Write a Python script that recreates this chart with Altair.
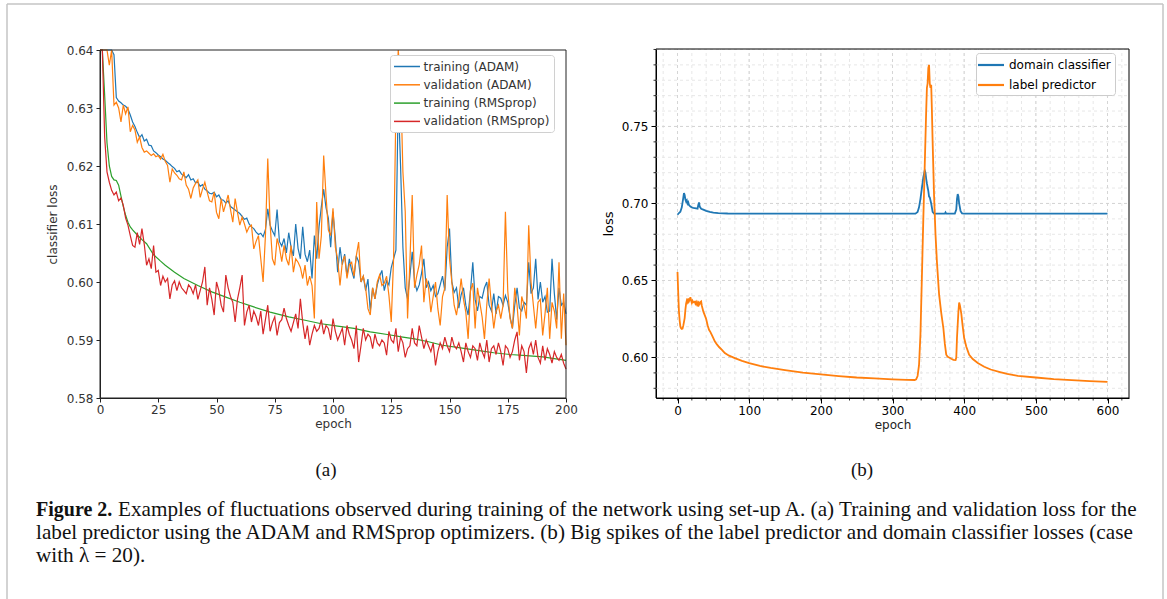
import altair as alt
import pandas as pd

# ---------------- panel (a) data ----------------
SERIES_A = ["training (ADAM)", "validation (ADAM)", "training (RMSprop)", "validation (RMSprop)"]
COLORS_A = ["#1f77b4", "#ff7f0e", "#2ca02c", "#d62728"]

epochs_a = list(range(201))

train_adam = [
    0.680, 0.668, 0.659, 0.652, 0.647, 0.643, 0.6392, 0.6318, 0.6312, 0.6309,
    0.6305, 0.6303, 0.6298, 0.6288, 0.6276, 0.6268, 0.6258, 0.6249, 0.6254, 0.6243,
    0.6246, 0.6236, 0.6235, 0.6226, 0.6223, 0.6219, 0.6216, 0.6212, 0.6210, 0.6206,
    0.6203, 0.6199, 0.6196, 0.6190, 0.6192, 0.6186, 0.6183, 0.6180, 0.6185, 0.6176,
    0.6178, 0.6171, 0.6172, 0.6165, 0.6168, 0.6160, 0.6157, 0.6153, 0.6152, 0.6155,
    0.6147, 0.6150, 0.6142, 0.6141, 0.6136, 0.6140, 0.6130, 0.6127, 0.6124, 0.6121,
    0.6118, 0.6113, 0.6108, 0.6110, 0.6100, 0.6095, 0.6092, 0.6086, 0.6082, 0.6084,
    0.6078, 0.6090, 0.6126, 0.6098, 0.6088, 0.6080, 0.6125, 0.6070, 0.6062, 0.6075,
    0.6050, 0.6085, 0.6060, 0.6045, 0.6100, 0.6058, 0.6040, 0.6095, 0.6048, 0.6035,
    0.6055, 0.6006, 0.6080, 0.6040, 0.6095, 0.6130, 0.6160, 0.6128, 0.6110, 0.6060,
    0.6121, 0.6075, 0.6017, 0.6060, 0.6030, 0.6048, 0.6010, 0.6040, 0.6020, 0.6006,
    0.6045, 0.6035, 0.6000, 0.6010, 0.5985, 0.6005, 0.5950, 0.5990, 0.5971, 0.5995,
    0.6010, 0.6020, 0.5985, 0.6002, 0.5995, 0.6025, 0.6040, 0.6055, 0.6320, 0.6200,
    0.6060, 0.5990, 0.5971, 0.6010, 0.6052, 0.6000, 0.5985, 0.5995, 0.6015, 0.6040,
    0.5990, 0.6000, 0.5985, 0.5994, 0.5975, 0.5980, 0.5995, 0.6010, 0.5985, 0.6060,
    0.6092, 0.6000, 0.5982, 0.5990, 0.5955, 0.5978, 0.5990, 0.5960, 0.5943, 0.5985,
    0.6034, 0.5970, 0.5950, 0.5975, 0.5972, 0.5990, 0.6000, 0.5960, 0.5950, 0.5980,
    0.5945, 0.5975, 0.5972, 0.5960, 0.5977, 0.5965, 0.5940, 0.5920, 0.5960, 0.5990,
    0.5955, 0.5950, 0.5965, 0.5960, 0.6034, 0.5980, 0.5990, 0.6040, 0.5970, 0.6000,
    0.5965, 0.5975, 0.5948, 0.5950, 0.6040, 0.5980, 0.5935, 0.5990, 0.5960, 0.5965,
    0.5945,
]

val_adam = [
    0.690, 0.672, 0.655, 0.642, 0.6374, 0.6440, 0.6305, 0.6310, 0.6300, 0.6276,
    0.6305, 0.6290, 0.6302, 0.6259, 0.6270, 0.6262, 0.6241, 0.6250, 0.6232, 0.6224,
    0.6226, 0.6222, 0.6218, 0.6221, 0.6216, 0.6218, 0.6212, 0.6220, 0.6208, 0.6201,
    0.6172, 0.6195, 0.6188, 0.6184, 0.6178, 0.6176, 0.6190, 0.6167, 0.6160, 0.6144,
    0.6162, 0.6170, 0.6176, 0.6146, 0.6160, 0.6172, 0.6155, 0.6140, 0.6138, 0.6155,
    0.6120, 0.6109, 0.6144, 0.6121, 0.6135, 0.6150, 0.6125, 0.6103, 0.6144, 0.6120,
    0.6098, 0.6112, 0.6100, 0.6086, 0.6095, 0.6098, 0.6057, 0.6070, 0.6080, 0.6040,
    0.6000, 0.6080, 0.6213, 0.6100, 0.6040, 0.6029, 0.6075, 0.6060, 0.6035, 0.6063,
    0.6040, 0.6029, 0.6063, 0.6017, 0.6040, 0.6034, 0.6025, 0.6006, 0.6029, 0.5994,
    0.6010, 0.5994, 0.5937, 0.6138, 0.6040, 0.6080, 0.6218, 0.6149, 0.6090, 0.6080,
    0.6127, 0.6060, 0.6040, 0.5994, 0.6034, 0.6045, 0.6006, 0.6030, 0.6034, 0.6010,
    0.6045, 0.6069, 0.6000, 0.6010, 0.5990, 0.5954, 0.5943, 0.5990, 0.5971, 0.6000,
    0.6012, 0.5994, 0.5998, 0.6010, 0.5977, 0.5931, 0.6040, 0.6300, 0.6450, 0.6350,
    0.6190, 0.6121, 0.5937, 0.6034, 0.6150, 0.5990, 0.6012, 0.6030, 0.6063, 0.5965,
    0.6006, 0.5990, 0.5948, 0.5975, 0.6000, 0.5954, 0.5925, 0.5975, 0.5990, 0.6150,
    0.6040, 0.6000, 0.5960, 0.5943, 0.5970, 0.6006, 0.5970, 0.5948, 0.5902, 0.5985,
    0.5998, 0.5920, 0.5990, 0.5965, 0.5940, 0.5902, 0.5960, 0.6006, 0.5960, 0.5920,
    0.5950, 0.5960, 0.5937, 0.5960, 0.6121, 0.5985, 0.5937, 0.5920, 0.5990, 0.5960,
    0.5908, 0.5975, 0.5960, 0.5937, 0.6098, 0.6000, 0.5960, 0.5920, 0.5965, 0.5970,
    0.5908, 0.5945, 0.5990, 0.5902, 0.5965, 0.5950, 0.5920, 0.6034, 0.5902, 0.5980,
    0.5891,
]

val_rms = [
    0.672, 0.640, 0.6250, 0.6190, 0.6172, 0.6158, 0.6150, 0.6155, 0.6140, 0.6145,
    0.6132, 0.6110, 0.6098, 0.6080, 0.6063, 0.6060, 0.6085, 0.6065, 0.6092, 0.6065,
    0.6029, 0.6040, 0.6023, 0.6063, 0.6017, 0.6020, 0.5994, 0.6010, 0.6000, 0.6006,
    0.5971, 0.5995, 0.6002, 0.5985, 0.6000, 0.5990, 0.5985, 0.5980, 0.5995, 0.5990,
    0.5980, 0.5995, 0.5970, 0.5985, 0.6000, 0.6026, 0.5960, 0.5990, 0.5970, 0.5943,
    0.6000, 0.5985, 0.5960, 0.5948, 0.6012, 0.5990, 0.5975, 0.5965, 0.5931, 0.5970,
    0.5990, 0.6012, 0.5925, 0.5948, 0.5960, 0.5931, 0.5950, 0.5940, 0.5925, 0.5950,
    0.5910, 0.5935, 0.5960, 0.5915, 0.5930, 0.5940, 0.5908, 0.5930, 0.5935, 0.5955,
    0.5937, 0.5925, 0.5915, 0.5930, 0.5945, 0.5920, 0.5971, 0.5930, 0.5902, 0.5925,
    0.5891, 0.5910, 0.5925, 0.5915, 0.5920, 0.5935, 0.5910, 0.5925, 0.5920, 0.5900,
    0.5937, 0.5915, 0.5900, 0.5910, 0.5920, 0.5891, 0.5925, 0.5910, 0.5900, 0.5885,
    0.5925, 0.5862, 0.5890, 0.5920, 0.5900, 0.5910, 0.5905, 0.5885, 0.5910, 0.5895,
    0.5890, 0.5900, 0.5895, 0.5874, 0.5915, 0.5900, 0.5895, 0.5920, 0.5880, 0.5905,
    0.5895, 0.5870, 0.5885, 0.5890, 0.5920, 0.5895, 0.5890, 0.5925, 0.5905, 0.5885,
    0.5900, 0.5890, 0.5880, 0.5895, 0.5856, 0.5880, 0.5895, 0.5885, 0.5905, 0.5890,
    0.5880, 0.5905, 0.5890, 0.5885, 0.5895, 0.5880, 0.5862, 0.5895, 0.5880, 0.5870,
    0.5890, 0.5885, 0.5865, 0.5895, 0.5880, 0.5870, 0.5900, 0.5862, 0.5885, 0.5890,
    0.5875, 0.5895, 0.5880, 0.5856, 0.5890, 0.5885, 0.5870, 0.5880, 0.5900, 0.5914,
    0.5865, 0.5890, 0.5880, 0.5843, 0.5885, 0.5895, 0.5875, 0.5900, 0.5870, 0.5860,
    0.5890, 0.5865, 0.5885, 0.5875, 0.5860, 0.5880, 0.5870, 0.5865, 0.5875, 0.5860,
    0.5850,
]

train_rms_epochs = [0, 1, 2, 3, 4, 5, 6, 7, 8, 9, 10, 11, 12, 13, 14, 16, 18, 20, 23, 26,
                    28, 32, 36, 42, 48, 54, 60, 66, 73, 81, 88, 95, 102, 109, 116, 124, 130,
                    135, 141, 147, 154, 162, 169, 176, 183, 190, 195, 200]
train_rms = [0.668, 0.642, 0.6322, 0.6240, 0.6200, 0.6182, 0.6176, 0.6175, 0.6167, 0.6148,
             0.6130, 0.6115, 0.6103, 0.6095, 0.6090, 0.6081, 0.6073, 0.6066, 0.6047, 0.6036,
             0.6029, 0.6017, 0.6006, 0.5994, 0.5983, 0.5974, 0.5965, 0.5957, 0.5948, 0.5940,
             0.5934, 0.5928, 0.5924, 0.5920, 0.5914, 0.5909, 0.5905, 0.5902, 0.5897, 0.5891,
             0.5887, 0.5882, 0.5878, 0.5875, 0.5873, 0.5871, 0.5868, 0.5865]

# ---------------- panel (b) data ----------------
SERIES_B = ["domain classifier", "label predictor"]
COLORS_B = ["#1f77b4", "#ff7f0e"]

dom_epochs = [0, 2, 4, 6, 8, 9, 10, 11, 12, 13, 14, 15, 16, 18, 20, 22, 24, 26, 28, 29,
              30, 31, 33, 36, 40, 45, 50, 57, 70, 100, 200, 300, 332, 335, 337, 339, 341,
              343, 345, 346, 347, 348, 350, 351, 352, 354, 356, 358, 370, 373, 374, 375,
              387, 389, 390, 391, 392, 393, 395, 397, 400, 500, 600]
dom_loss = [0.6927, 0.6938, 0.6946, 0.6975, 0.7035, 0.7068, 0.7055, 0.7025, 0.7012, 0.7020,
            0.7000, 0.7008, 0.6990, 0.6980, 0.6975, 0.6972, 0.6970, 0.6968, 0.6966, 0.6990,
            0.7007, 0.6980, 0.6966, 0.6960, 0.6952, 0.6945, 0.6940, 0.6937, 0.6935, 0.6934,
            0.6934, 0.6934, 0.6934, 0.6945, 0.6975, 0.7030, 0.7100, 0.7170, 0.7214, 0.7200,
            0.7160, 0.7130, 0.7080, 0.7045, 0.7040, 0.7000, 0.6945, 0.6934, 0.6934, 0.6934,
            0.6942, 0.6934, 0.6934, 0.6960, 0.7030, 0.7061, 0.7045, 0.7000, 0.6950, 0.6936,
            0.6934, 0.6934, 0.6934]

lab_epochs = [0, 1, 2, 3, 4, 5, 6, 7, 8, 9, 10, 11, 12, 13, 14, 15, 16, 17, 18, 19, 20, 21,
              22, 24, 25, 26, 27, 28, 29, 30, 31, 32, 33, 34, 36, 38, 40, 42, 44, 46, 48, 50,
              52, 55, 58, 62, 66, 72, 80, 90, 100, 115, 130, 150, 175, 200, 225, 250, 275,
              300, 320, 331, 333, 335, 337, 339, 341, 343, 345, 347, 348, 349, 350, 351, 352,
              353, 354, 355, 356, 358, 360, 362, 365, 368, 371, 373, 375, 377, 379, 382, 385,
              388, 389, 390, 392, 393, 394, 396, 398, 400, 403, 407, 412, 419, 428, 437, 450,
              460, 475, 500, 525, 550, 575, 600]
lab_loss = [0.6555, 0.6420, 0.6300, 0.6240, 0.6200, 0.6190, 0.6185, 0.6187, 0.6205, 0.6230,
            0.6256, 0.6310, 0.6350, 0.6370, 0.6360, 0.6383, 0.6365, 0.6375, 0.6392, 0.6370,
            0.6355, 0.6368, 0.6358, 0.6362, 0.6350, 0.6360, 0.6345, 0.6355, 0.6330, 0.6355,
            0.6348, 0.6360, 0.6364, 0.6335, 0.6299, 0.6275, 0.6250, 0.6210, 0.6180, 0.6165,
            0.6145, 0.6125, 0.6105, 0.6085, 0.6068, 0.6050, 0.6029, 0.6012, 0.5996, 0.5978,
            0.5964, 0.5945, 0.5932, 0.5918, 0.5902, 0.5890, 0.5879, 0.5870, 0.5864, 0.5858,
            0.5855, 0.5854, 0.5858, 0.5880, 0.5950, 0.6150, 0.6520, 0.6900, 0.7250, 0.7600,
            0.7750, 0.7780, 0.7880, 0.7900, 0.7780, 0.7750, 0.7770, 0.7600, 0.7400, 0.7050,
            0.6800, 0.6620, 0.6410, 0.6290, 0.6190, 0.6090, 0.6018, 0.6005, 0.6000, 0.5992,
            0.5985, 0.5983, 0.6000, 0.6130, 0.6300, 0.6357, 0.6340, 0.6285, 0.6200, 0.6126,
            0.6070, 0.6018, 0.5990, 0.5964, 0.5940, 0.5922, 0.5905, 0.5893, 0.5880, 0.5870,
            0.5860, 0.5853, 0.5847, 0.5842]

# ticks / grid values
XA_TICKS = [0, 25, 50, 75, 100, 125, 150, 175, 200]
YA_TICKS = [0.58, 0.59, 0.60, 0.61, 0.62, 0.63, 0.64]
XB_TICKS = [0, 100, 200, 300, 400, 500, 600]
XB_MINOR = [-20, 0, 20, 40, 60, 80, 100, 120, 140, 160, 180, 200, 220, 240, 260, 280, 300,
            320, 340, 360, 380, 400, 420, 440, 460, 480, 500, 520, 540, 560, 580, 600, 620]
YB_TICKS = [0.60, 0.65, 0.70, 0.75]
YB_MINOR = [0.58, 0.59, 0.60, 0.61, 0.62, 0.63, 0.64, 0.65, 0.66, 0.67, 0.68, 0.69, 0.70,
            0.71, 0.72, 0.73, 0.74, 0.75, 0.76, 0.77, 0.78, 0.79, 0.80]

CAPTION_LINES = [
    "Examples of fluctuations observed during training of the network using set-up A. (a) Training and validation loss for the",
    "label predictor using the ADAM and RMSprop optimizers. (b) Big spikes of the label predictor and domain classifier losses (case",
    "with \u03bb = 20).",
]

# ---------------- geometry ----------------
W, H = 1167, 599
FONT = "DejaVu Sans"
SERIF = "Liberation Serif"
A_L, A_R, A_B, A_T = 100, 566, 398, 50
B_L, B_R, B_B, B_T = 656, 1129, 398, 49
XB_DOM = [-30, 630]
YB_DOM = [0.5737, 0.8003]

# ---------------- panel (a) ----------------
df_a = pd.concat([
    pd.DataFrame({"epoch": epochs_a, "loss": train_adam, "series": SERIES_A[0]}),
    pd.DataFrame({"epoch": epochs_a, "loss": val_adam, "series": SERIES_A[1]}),
    pd.DataFrame({"epoch": train_rms_epochs, "loss": train_rms, "series": SERIES_A[2]}),
    pd.DataFrame({"epoch": epochs_a, "loss": val_rms, "series": SERIES_A[3]}),
], ignore_index=True)

xa = alt.Scale(domain=[0, 200], range=[A_L, A_R], nice=False, zero=False)
ya = alt.Scale(domain=[0.58, 0.64], range=[A_B, A_T], nice=False, zero=False, clamp=True)
ca = alt.Scale(domain=SERIES_A, range=COLORS_A)

axis_xa = alt.Axis(orient="bottom", offset=A_B - H, values=XA_TICKS, title="epoch", grid=False,
                   domainColor="#222222", tickColor="#222222", tickSize=4, labelFont=FONT,
                   labelFontSize=12, labelColor="#333333", labelPadding=2, labelFlush=False,
                   labelOverlap=False, titleFont=FONT, titleFontSize=12, titleFontWeight="normal",
                   titleColor="#333333", titlePadding=3)
axis_ya = alt.Axis(orient="left", offset=-A_L, values=YA_TICKS, format=".2f", title="classifier loss",
                   grid=False, domainColor="#222222", tickColor="#222222", tickSize=4, labelFont=FONT,
                   labelFontSize=12, labelColor="#333333", labelPadding=3, labelFlush=False,
                   labelOverlap=False, titleFont=FONT, titleFontSize=12, titleFontWeight="normal",
                   titleColor="#333333", titlePadding=7)
legend_a = alt.Legend(orient="none", legendX=390, legendY=55, title=None, direction="vertical",
                      symbolType="M-2,0H2", symbolSize=169, symbolStrokeWidth=1.5,
                      labelFont=FONT, labelFontSize=12, labelColor="#333333",
                      fillColor="white", strokeColor="#d0d0d0", padding=4, cornerRadius=3,
                      rowPadding=4.3, symbolOffset=5.5, labelOffset=9)

def line_a(name):
    return alt.Chart(df_a).transform_filter(alt.datum.series == name).mark_line(
        strokeWidth=1.2).encode(
        x=alt.X("epoch:Q", scale=xa, axis=axis_xa),
        y=alt.Y("loss:Q", scale=ya, axis=axis_ya),
        color=alt.Color("series:N", scale=ca, legend=legend_a),
        order="epoch:Q",
    )

one = pd.DataFrame({"k": [0]})
frame_a = alt.Chart(one).mark_rect(filled=False, stroke="#222222", strokeWidth=1).encode(
    x=alt.X(datum=0, type="quantitative", scale=xa, axis=axis_xa),
    x2=alt.X2(datum=200),
    y=alt.Y(datum=0.58, type="quantitative", scale=ya, axis=axis_ya),
    y2=alt.Y2(datum=0.64),
)

panel_a = alt.layer(*[line_a(s) for s in SERIES_A], frame_a)

# ---------------- panel (b) ----------------
df_b = pd.concat([
    pd.DataFrame({"epoch": dom_epochs, "loss": dom_loss, "series": SERIES_B[0]}),
    pd.DataFrame({"epoch": lab_epochs, "loss": lab_loss, "series": SERIES_B[1]}),
], ignore_index=True)

xb = alt.Scale(domain=XB_DOM, range=[B_L, B_R], nice=False, zero=False)
yb = alt.Scale(domain=YB_DOM, range=[B_B, B_T], nice=False, zero=False)
cb = alt.Scale(domain=SERIES_B, range=COLORS_B)

axis_xb = alt.Axis(orient="bottom", offset=B_B - H, values=XB_TICKS, title="epoch", grid=False,
                   domainColor="black", tickColor="black", tickSize=5, labelFont=FONT,
                   labelFontSize=12, labelColor="black", labelPadding=2, labelFlush=False,
                   labelOverlap=False, titleFont=FONT, titleFontSize=12, titleFontWeight="normal",
                   titleColor="#222222", titlePadding=3)
axis_yb = alt.Axis(orient="left", offset=-B_L, values=YB_TICKS, format=".2f", title="loss",
                   grid=False, domainColor="black", tickColor="black", tickSize=5, labelFont=FONT,
                   labelFontSize=12, labelColor="black", labelPadding=3, labelFlush=False,
                   labelOverlap=False, titleFont=FONT, titleFontSize=13, titleFontWeight="normal",
                   titleColor="black", titlePadding=6)
legend_b = alt.Legend(orient="none", legendX=976, legendY=53, title=None, direction="vertical",
                      symbolType="M-2,0H2", symbolSize=169, symbolStrokeWidth=2.2,
                      labelFont=FONT, labelFontSize=12, labelColor="black",
                      fillColor="white", strokeColor="#cccccc", padding=4, cornerRadius=3,
                      rowPadding=6, symbolOffset=3, labelOffset=10)

df_gx_minor = pd.DataFrame({"v": XB_MINOR})
df_gx_major = pd.DataFrame({"v": XB_TICKS})
df_gy_minor = pd.DataFrame({"v": YB_MINOR})
df_gy_major = pd.DataFrame({"v": YB_TICKS})

def vgrid(df, color):
    return alt.Chart(df).mark_rule(color=color, strokeWidth=0.9, strokeDash=[3, 3]).encode(
        x=alt.X("v:Q", scale=xb, axis=axis_xb),
        y=alt.Y(datum=YB_DOM[0], type="quantitative", scale=yb, axis=axis_yb),
        y2=alt.Y2(datum=YB_DOM[1]),
    )

def hgrid(df, color):
    return alt.Chart(df).mark_rule(color=color, strokeWidth=0.9, strokeDash=[3, 3]).encode(
        y=alt.Y("v:Q", scale=yb, axis=axis_yb),
        x=alt.X(datum=XB_DOM[0], type="quantitative", scale=xb, axis=axis_xb),
        x2=alt.X2(datum=XB_DOM[1]),
    )

xminor = alt.Chart(df_gx_minor).mark_rule(color="black", strokeWidth=0.8, y2Offset=2.5).encode(
    x=alt.X("v:Q", scale=xb, axis=axis_xb),
    y=alt.Y(datum=YB_DOM[0], type="quantitative", scale=yb, axis=axis_yb),
    y2=alt.Y2(datum=YB_DOM[0]),
)
yminor = alt.Chart(df_gy_minor).mark_rule(color="black", strokeWidth=0.8, x2Offset=-2.5).encode(
    y=alt.Y("v:Q", scale=yb, axis=axis_yb),
    x=alt.X(datum=XB_DOM[0], type="quantitative", scale=xb, axis=axis_xb),
    x2=alt.X2(datum=XB_DOM[0]),
)

def line_b(name):
    return alt.Chart(df_b).transform_filter(alt.datum.series == name).mark_line(
        strokeWidth=1.8).encode(
        x=alt.X("epoch:Q", scale=xb, axis=axis_xb),
        y=alt.Y("loss:Q", scale=yb, axis=axis_yb),
        color=alt.Color("series:N", scale=cb, legend=legend_b),
        order="epoch:Q",
    )

frame_b = alt.Chart(one).mark_rect(filled=False, stroke="black", strokeWidth=1).encode(
    x=alt.X(datum=XB_DOM[0], type="quantitative", scale=xb, axis=axis_xb),
    x2=alt.X2(datum=XB_DOM[1]),
    y=alt.Y(datum=YB_DOM[0], type="quantitative", scale=yb, axis=axis_yb),
    y2=alt.Y2(datum=YB_DOM[1]),
)

panel_b = alt.layer(
    vgrid(df_gx_minor, "#e4e4e4"), hgrid(df_gy_minor, "#e4e4e4"),
    vgrid(df_gx_major, "#d2d2d2"), hgrid(df_gy_major, "#d2d2d2"),
    xminor, yminor,
    *[line_b(s) for s in SERIES_B], frame_b,
)

# ---------------- decorations: border and captions ----------------
BORDER = "#c4c4c4"
border_top = alt.Chart(one).mark_rule(color=BORDER, strokeWidth=1.5).encode(
    x=alt.value(7), x2=alt.value(1163), y=alt.value(4))
border_left = alt.Chart(one).mark_rule(color=BORDER, strokeWidth=1.5).encode(
    x=alt.value(7), y=alt.value(4), y2=alt.value(H))
border_right = alt.Chart(one).mark_rule(color=BORDER, strokeWidth=1.5).encode(
    x=alt.value(1163), y=alt.value(4), y2=alt.value(H))

def txt(s, x, y, size=21.2, weight="normal", align="left"):
    return alt.Chart(pd.DataFrame({"t": [s]})).mark_text(
        font=SERIF, fontSize=size, fontWeight=weight, align=align, baseline="middle",
        color="#111111").encode(text="t:N", x=alt.value(x), y=alt.value(y))

deco = alt.layer(
    border_top, border_left, border_right,
    txt("(a)", 326, 470, size=19, align="center"),
    txt("(b)", 862, 470, size=19, align="center"),
    txt("Figure 2.", 36, 510, size=20, weight="bold"),
    txt(CAPTION_LINES[0], 118, 510),
    txt(CAPTION_LINES[1], 36, 533),
    txt(CAPTION_LINES[2], 36, 556),
)

chart = alt.layer(panel_a, panel_b, deco).resolve_scale(
    x="independent", y="independent", color="independent"
).properties(
    width=W, height=H, padding=0, autosize=alt.AutoSizeParams(type="none"),
    background="white",
).configure_view(stroke=None)

chart.save("out.html", embed_options={"renderer": "svg", "actions": False})
